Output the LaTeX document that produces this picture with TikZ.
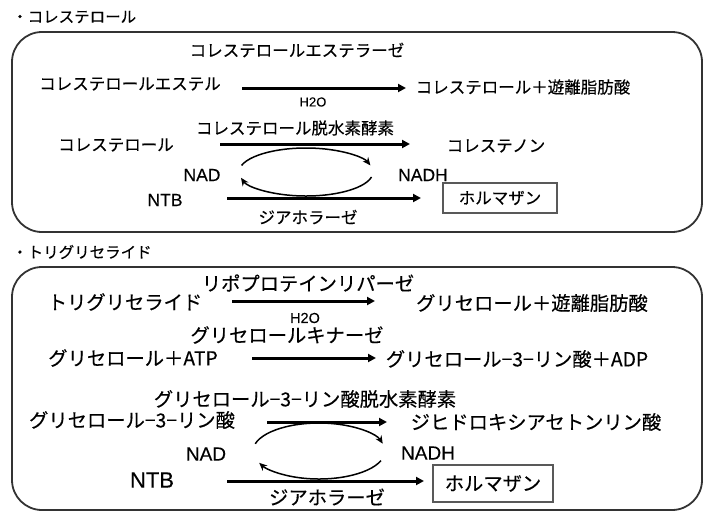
\documentclass[tikz,border=0pt]{standalone}
\usepackage{fontspec}
\setmainfont{Noto Sans CJK JP}[FakeBold=0.35]
\newfontfamily\latfont{Liberation Sans}[FakeBold=0.25]
\usetikzlibrary{arrows.meta}
\tikzset{
  hdr/.style={anchor=west,inner sep=0pt,font=\fontsize{15.5}{18}\selectfont},
  ta/.style={inner sep=0pt,font=\fontsize{16.5}{19}\selectfont},
  tb/.style={inner sep=0pt,font=\fontsize{19.3}{22}\selectfont},
  lat/.style={inner sep=0pt,font=\latfont\fontsize{17.5}{20}\selectfont},
  latb/.style={inner sep=0pt,font=\latfont\fontsize{19}{22}\selectfont},
  small/.style={inner sep=0pt,font=\latfont\fontsize{13}{16}\selectfont},
  smallb/.style={inner sep=0pt,font=\latfont\fontsize{14.5}{17}\selectfont},
  frame/.style={draw=black!80,line width=1.8pt,rounded corners=30pt},
  rxn/.style={line width=3pt,-{Triangle[length=8pt,width=8pt]}},
  cyc/.style={line width=1.5pt,-{Stealth[length=8pt,width=7pt]}},
  prod/.style={draw=black!65,line width=2.2pt,minimum width=114pt,minimum height=30pt,inner sep=0pt}
}
\begin{document}
\begin{tikzpicture}[x=1pt,y=-1pt]
\useasboundingbox (0,0) rectangle (705,512);
% ---------- cholesterol ----------
\node[hdr] (h1) at (12,17) {・コレステロール};
\draw[frame] (12,32) rectangle (702,232);
\node[ta] (e1) at (297,50) {コレステロールエステラーゼ};
\node[ta] (s1) at (130,84) {コレステロールエステル};
\coordinate (a1s) at (242,88);
\coordinate (a1e) at (406,88);
\draw[rxn] (a1s) -- (a1e);
\node[ta] (p1) at (523,87) {コレステロール＋遊離脂肪酸};
\node[small] (w1) at (313,102) {H2O};
\node[ta] (e2) at (295,128) {コレステロール脱水素酵素};
\node[ta] (s2) at (116,145) {コレステロール};
\coordinate (a2s) at (220,144);
\coordinate (a2e) at (410,144);
\draw[rxn] (a2s) -- (a2e);
\node[ta] (p2) at (496,146) {コレステノン};
\coordinate (c1) at (306,172);
\draw[cyc] (c1) ++(196:67 and 24) arc[start angle=196,end angle=344,x radius=67,y radius=24];
\draw[cyc] (c1) ++(12:67 and 24) arc[start angle=12,end angle=166,x radius=67,y radius=24];
\node[lat] (nad1) at (202,175) {NAD};
\node[lat] (nadh1) at (423,175) {NADH};
\node[lat] (ntb1) at (165,200) {NTB};
\node[prod,ta] (f1) at (500,198) {ホルマザン};
\coordinate (a3s) at (227,198);
\coordinate (a3e) at (421,198);
\draw[rxn] (a3s) -- (a3e);
\node[ta] (d1) at (308,217) {ジアホラーゼ};
% ---------- triglyceride ----------
\node[hdr] (h2) at (12,252) {・トリグリセライド};
\draw[frame] (12,267) rectangle (702,510);
\node[tb] (e3) at (308,283) {リポプロテインリパーゼ};
\node[tb] (s3) at (125,302) {トリグリセライド};
\coordinate (b1s) at (232,301);
\coordinate (b1e) at (375,301);
\draw[rxn] (b1s) -- (b1e);
\node[tb] (p3) at (532,303) {グリセロール＋遊離脂肪酸};
\node[smallb] (w2) at (305,318) {H2O};
\node[tb] (e4) at (287,335) {グリセロールキナーゼ};
\node[tb] (s4) at (133,358) {グリセロール＋ATP};
\coordinate (b2s) at (252,358);
\coordinate (b2e) at (376,358);
\draw[rxn] (b2s) -- (b2e);
\node[tb] (p4) at (517,359) {グリセロール−3−リン酸＋ADP};
\node[tb] (e5) at (305,399) {グリセロール−3−リン酸脱水素酵素};
\node[tb] (s5) at (132,420) {グリセロール−3−リン酸};
\coordinate (b3s) at (267,422);
\coordinate (b3e) at (387,422);
\draw[rxn] (b3s) -- (b3e);
\node[tb] (p5) at (536,422) {ジヒドロキシアセトンリン酸};
\coordinate (c2) at (319,451);
\draw[cyc] (c2) ++(195:66 and 28) arc[start angle=195,end angle=345,x radius=66,y radius=28];
\node[latb] (nad2) at (206,454) {NAD};
\node[latb] (nadh2) at (428,453) {NADH};
\draw[cyc] (c2) ++(20:66 and 28) arc[start angle=20,end angle=155,x radius=66,y radius=28];
\node[latb,font=\latfont\fontsize{22}{25}\selectfont] (ntb2) at (152,480) {NTB};
\node[prod,tb,minimum width=120pt,minimum height=37pt] (f2) at (493,483.5) {ホルマザン};
\coordinate (b4s) at (227,481);
\coordinate (b4e) at (424,481);
\draw[rxn] (b4s) -- (b4e);
\node[tb] (d2) at (327,497) {ジアホラーゼ};
\end{tikzpicture}
\end{document}
